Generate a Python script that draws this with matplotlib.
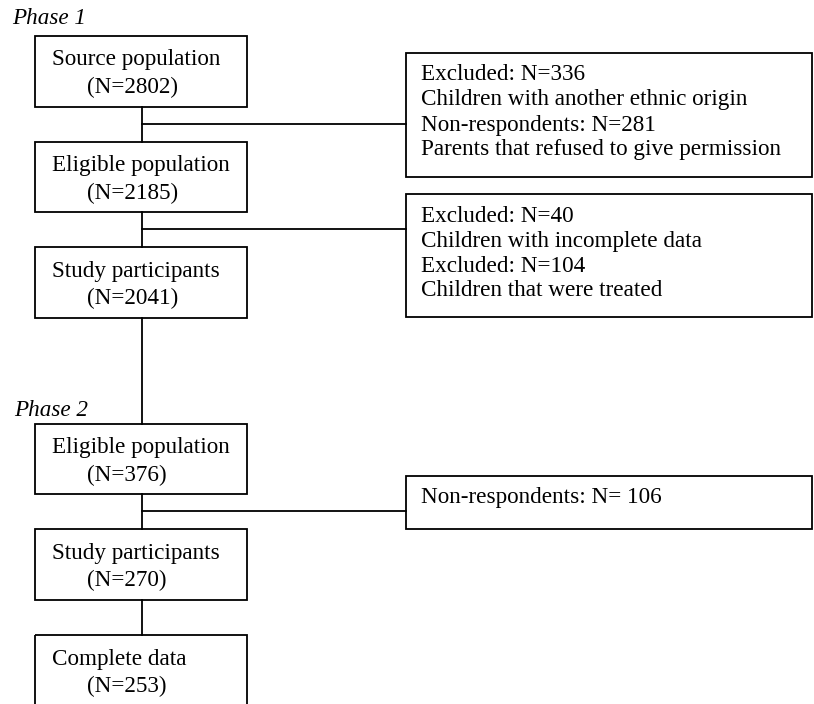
import matplotlib
matplotlib.use("Agg")
import matplotlib.pyplot as plt
from matplotlib.patches import Rectangle

plt.rcParams['font.family'] = ['Liberation Serif', 'DejaVu Serif']

# main column boxes: title, count
main_titles = ["Source population", "Eligible population", "Study participants",
               "Eligible population", "Study participants", "Complete data"]
main_counts = [2802, 2185, 2041, 376, 270, 253]
# side boxes: text lines
side_lines = [
    ["Excluded: N=336", "Children with another ethnic origin",
     "Non-respondents: N=281", "Parents that refused to give permission"],
    ["Excluded: N=40", "Children with incomplete data",
     "Excluded: N=104", "Children that were treated"],
    ["Non-respondents: N= 106"],
]
phase_labels = ["Phase 1", "Phase 2"]

# layout (pixel coordinates, y downwards)
main_x0, main_x1 = 35, 247
main_tops = [36, 142, 247, 424, 529, 635]
main_bots = [107, 212, 318, 494, 600, 712]
stem_x = 142
side_x0, side_x1 = 406, 812
side_tops = [53, 194, 476]
side_bots = [177, 317, 529]
branch_y = [124, 229, 511]
phase_pos = [(12, 19), (14, 410)]

W, H = 814, 704
fig = plt.figure(figsize=(W / 100, H / 100), dpi=100)
ax = fig.add_axes([0, 0, 1, 1])
ax.set_xlim(0, W)
ax.set_ylim(H, 0)
ax.axis('off')

lw = 1.3
fs = 16.7

for i in range(len(main_titles)):
    t, b = main_tops[i], main_bots[i]
    ax.add_patch(Rectangle((main_x0, t), main_x1 - main_x0, b - t,
                           fill=False, ec='black', lw=lw))
    ax.text(52, t + 24, main_titles[i], fontsize=fs, ha='left', va='center')
    ax.text(87, t + 51, "(N=%d)" % main_counts[i], fontsize=fs, ha='left', va='center')
    if i + 1 < len(main_titles):
        ax.plot([stem_x, stem_x], [b, main_tops[i + 1]], color='black', lw=lw)

for j, lines in enumerate(side_lines):
    t, b = side_tops[j], side_bots[j]
    ax.add_patch(Rectangle((side_x0, t), side_x1 - side_x0, b - t,
                           fill=False, ec='black', lw=lw))
    for k, s in enumerate(lines):
        ax.text(421, t + 22 + 25 * k, s, fontsize=fs, ha='left', va='center')
    ax.plot([stem_x, side_x0], [branch_y[j], branch_y[j]], color='black', lw=lw)

for lab, (x, y) in zip(phase_labels, phase_pos):
    ax.text(x, y, lab, fontsize=fs, style='italic', ha='left', va='center')

fig.savefig("out.png", dpi=100)
